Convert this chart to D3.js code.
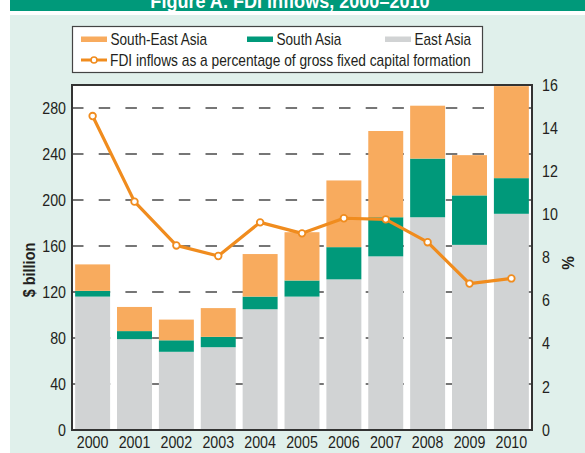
<!DOCTYPE html>
<html>
<head>
<meta charset="utf-8">
<script src="https://cdnjs.cloudflare.com/ajax/libs/d3/7.8.5/d3.min.js"></script>
<style>
  html, body { margin: 0; padding: 0; background: #fff; }
  svg text { font-family: "Liberation Sans", Arial, sans-serif; fill: #231f20; }
</style>
</head>
<body>
<div id="chart"></div>
<script>
  'use strict';

  // data
  var years = ['2000', '2001', '2002', '2003', '2004', '2005', '2006', '2007', '2008', '2009', '2010'];
  var eastAsia = [116, 79, 68, 72, 105, 116, 131, 151, 185, 161, 188];
  var southAsia = [5, 7, 10, 9, 11, 14, 28, 34, 51, 43, 31];
  var southEastAsia = [23, 21, 18, 25, 37, 42, 58, 75, 46, 35, 80];
  var fdiPct = [14.56, 10.59, 8.56, 8.07, 9.63, 9.12, 9.82, 9.77, 8.71, 6.79, 7.03];
  var leftTicks = [0, 40, 80, 120, 160, 200, 240, 280];
  var rightTicks = [0, 2, 4, 6, 8, 10, 12, 14, 16];

  var colors = { east: '#d1d3d4', south: '#00997a', southEast: '#f8ab5e', line: '#f08c1e' };

  var width = 585, height = 453;
  var plot = { left: 72, right: 532, top: 85, bottom: 430 };

  // no narrow font installed, so squeeze text horizontally around its x anchor
  function condense(sel, k) {
    sel.each(function() {
      var t = d3.select(this);
      var x0 = +t.attr('x') || 0;
      t.attr('transform', 'translate(' + x0 + ',0) scale(' + k + ',1) translate(' + (-x0) + ',0)');
    });
  }

  var svg = d3.select('#chart').append('svg')
    .attr('width', width)
    .attr('height', height);

  // backgrounds + title strip
  svg.append('rect').attr('x', 10).attr('y', 0).attr('width', width - 10).attr('height', 11)
    .attr('fill', '#00997a');
  svg.append('text')
    .attr('x', 290).attr('y', 7.5)
    .attr('text-anchor', 'middle')
    .style('font-size', '21px').style('font-weight', 'bold').style('fill', '#fff')
    .text('Figure A. FDI inflows, 2000\u20132010')
    .call(condense, 0.86);
  svg.append('rect').attr('x', 10).attr('y', 15).attr('width', width - 10).attr('height', height - 15)
    .attr('fill', '#e0f0eb');
  svg.append('rect')
    .attr('x', plot.left).attr('y', plot.top)
    .attr('width', plot.right - plot.left).attr('height', plot.bottom - plot.top)
    .attr('fill', '#fff');

  var x = d3.scaleBand().domain(years).range([plot.left, plot.right])
    .paddingInner(0.165).paddingOuter(0.075);
  var y = d3.scaleLinear().domain([0, 300]).range([plot.bottom, plot.top]);
  var y2 = d3.scaleLinear().domain([0, 16]).range([plot.bottom, plot.top]);

  // dashed grid behind the bars
  svg.append('g').selectAll('line')
    .data(leftTicks.slice(1))
    .enter().append('line')
    .attr('x1', plot.left).attr('x2', plot.right)
    .attr('y1', function(d) { return y(d); })
    .attr('y2', function(d) { return y(d); })
    .attr('stroke', '#4a4a4a')
    .attr('stroke-width', 1.6)
    .attr('stroke-dasharray', '11.5,15.2');

  // stacked bars
  var rows = years.map(function(yr, i) {
    return { year: yr, east: eastAsia[i], south: southAsia[i], southEast: southEastAsia[i] };
  });
  var stack = d3.stack().keys(['east', 'south', 'southEast'])(rows);

  svg.append('g').selectAll('g')
    .data(stack)
    .enter().append('g')
    .attr('fill', function(d) { return colors[d.key]; })
    .selectAll('rect')
    .data(function(d) { return d; })
    .enter().append('rect')
    .attr('x', function(d) { return x(d.data.year); })
    .attr('width', x.bandwidth())
    .attr('y', function(d) { return y(d[1]); })
    .attr('height', function(d) { return y(d[0]) - y(d[1]); });

  // frame
  svg.append('rect')
    .attr('x', plot.left).attr('y', plot.top)
    .attr('width', plot.right - plot.left).attr('height', plot.bottom - plot.top)
    .attr('fill', 'none').attr('stroke', '#333').attr('stroke-width', 2);

  // axes
  var leftAxis = svg.append('g')
    .attr('transform', 'translate(' + plot.left + ',0)')
    .call(d3.axisLeft(y).tickValues(leftTicks).tickSize(0).tickPadding(6));
  var rightAxis = svg.append('g')
    .attr('transform', 'translate(' + plot.right + ',0)')
    .call(d3.axisRight(y2).tickValues(rightTicks).tickSize(0).tickPadding(10));
  var bottomAxis = svg.append('g')
    .attr('transform', 'translate(0,' + plot.bottom + ')')
    .call(d3.axisBottom(x).tickSize(0).tickPadding(7));

  [leftAxis, rightAxis, bottomAxis].forEach(function(a) {
    a.select('.domain').remove();
    a.selectAll('text')
      .style('font-family', '"Liberation Sans", Arial, sans-serif')
      .style('font-size', '16px')
      .attr('fill', '#231f20')
      .call(condense, 0.89);
  });

  // FDI % line
  var line = d3.line()
    .x(function(d, i) { return x(years[i]) + x.bandwidth() / 2; })
    .y(function(d) { return y2(d); });

  svg.append('path')
    .datum(fdiPct)
    .attr('d', line)
    .attr('fill', 'none')
    .attr('stroke', colors.line)
    .attr('stroke-width', 3.2)
    .attr('stroke-linejoin', 'round');

  svg.append('g').selectAll('circle')
    .data(fdiPct)
    .enter().append('circle')
    .attr('cx', function(d, i) { return x(years[i]) + x.bandwidth() / 2; })
    .attr('cy', function(d) { return y2(d); })
    .attr('r', 3.3)
    .attr('fill', '#fff')
    .attr('stroke', colors.line)
    .attr('stroke-width', 1.8);

  // axis titles
  svg.append('text')
    .attr('transform', 'translate(35,270) rotate(-90) scale(0.85,1)')
    .attr('text-anchor', 'middle')
    .style('font-size', '17px').style('font-weight', 'bold')
    .text('$ billion');
  svg.append('text')
    .attr('transform', 'translate(574,263) rotate(-90) scale(0.9,1)')
    .attr('text-anchor', 'middle')
    .style('font-size', '17px').style('font-weight', 'bold')
    .text('%');

  // legend
  var legend = svg.append('g');
  legend.append('rect')
    .attr('x', 72.5).attr('y', 26.5).attr('width', 410).attr('height', 46)
    .attr('fill', '#fff').attr('stroke', '#444').attr('stroke-width', 1.2);

  var legendItems = [
    { label: 'South-East Asia', color: colors.southEast, x: 81 },
    { label: 'South Asia', color: colors.south, x: 247 },
    { label: 'East Asia', color: colors.east, x: 385 }
  ];
  legendItems.forEach(function(it) {
    legend.append('rect')
      .attr('x', it.x).attr('y', 36.5).attr('width', 26).attr('height', 5.5)
      .attr('fill', it.color);
    legend.append('text')
      .attr('x', it.x + 29.5).attr('y', 39.5).attr('dy', '0.35em')
      .style('font-size', '16px')
      .text(it.label)
      .call(condense, 0.85);
  });
  legend.append('line')
    .attr('x1', 81).attr('x2', 107).attr('y1', 60).attr('y2', 60)
    .attr('stroke', colors.line).attr('stroke-width', 3);
  legend.append('circle')
    .attr('cx', 94).attr('cy', 60).attr('r', 3)
    .attr('fill', '#fff').attr('stroke', colors.line).attr('stroke-width', 1.6);
  legend.append('text')
    .attr('x', 110).attr('y', 60).attr('dy', '0.35em')
    .style('font-size', '16px')
    .text('FDI inflows as a percentage of gross fixed capital formation')
    .call(condense, 0.86);
</script>
</body>
</html>
